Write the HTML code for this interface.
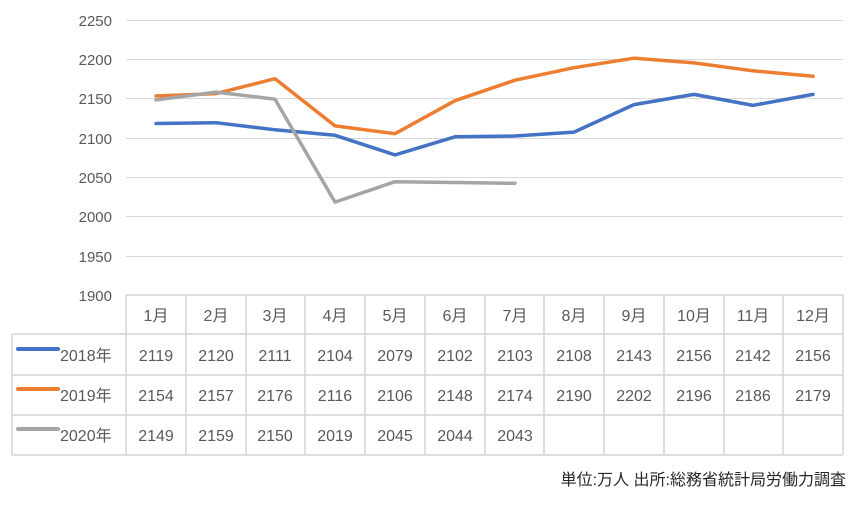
<!DOCTYPE html>
<html><head><meta charset="utf-8"><style>
body{margin:0;background:#fff;}
svg text{font-family:"Liberation Sans","Noto Sans CJK JP",sans-serif;fill:#595959;}
</style></head><body>
<svg width="861" height="501" xmlns="http://www.w3.org/2000/svg">
<g stroke="#d9d9d9" stroke-width="1">
<line x1="126" x2="843" y1="20.5" y2="20.5"/>
<line x1="126" x2="843" y1="59.5" y2="59.5"/>
<line x1="126" x2="843" y1="98.5" y2="98.5"/>
<line x1="126" x2="843" y1="138.5" y2="138.5"/>
<line x1="126" x2="843" y1="177.5" y2="177.5"/>
<line x1="126" x2="843" y1="216.5" y2="216.5"/>
<line x1="126" x2="843" y1="256.5" y2="256.5"/>
</g>
<g font-size="15" text-anchor="end">
<text x="112" y="26">2250</text><text x="112" y="65">2200</text><text x="112" y="104">2150</text>
<text x="112" y="144">2100</text><text x="112" y="183">2050</text><text x="112" y="222">2000</text>
<text x="112" y="262">1950</text><text x="112" y="301">1900</text>
</g>
<g stroke="#d4d4d4" stroke-width="1.5" fill="none">
<line x1="126" x2="843" y1="295" y2="295"/>
<line x1="12" x2="843" y1="334" y2="334"/>
<line x1="12" x2="843" y1="375" y2="375"/>
<line x1="12" x2="843" y1="415" y2="415"/>
<line x1="12" x2="843" y1="455" y2="455"/>
<line x1="12" x2="12" y1="334" y2="455"/>
<line x1="126" x2="126" y1="295" y2="455"/>
<line x1="186" x2="186" y1="295" y2="455"/><line x1="246" x2="246" y1="295" y2="455"/>
<line x1="305" x2="305" y1="295" y2="455"/><line x1="365" x2="365" y1="295" y2="455"/>
<line x1="425" x2="425" y1="295" y2="455"/><line x1="485" x2="485" y1="295" y2="455"/>
<line x1="544" x2="544" y1="295" y2="455"/><line x1="604" x2="604" y1="295" y2="455"/>
<line x1="664" x2="664" y1="295" y2="455"/><line x1="724" x2="724" y1="295" y2="455"/>
<line x1="783" x2="783" y1="295" y2="455"/><line x1="843" x2="843" y1="295" y2="455"/>
</g>
<g fill="none" stroke-width="3.5" stroke-linejoin="round" stroke-linecap="round">
<polyline stroke="#4472c4" points="156,123.5 216,122.7 275,129.8 335,135.3 395,154.9 455,136.8 515,136 574,132.1 634,104.6 694,94.4 753,105.4 813,94.4"/>
<polyline stroke="#ed7d31" points="156,96 216,93.6 275,78.7 335,125.9 395,133.7 455,100.7 515,80.2 574,67.7 634,58.2 694,62.9 753,70.8 813,76.3"/>
<polyline stroke="#a5a5a5" points="156,99.9 216,92.1 275,99.2 335,202.1 395,181.7 455,182.5 515,183.3"/>
</g>
<g font-size="16" text-anchor="middle">
<text x="156" y="321">1月</text><text x="216" y="321">2月</text><text x="275" y="321">3月</text>
<text x="335" y="321">4月</text><text x="395" y="321">5月</text><text x="455" y="321">6月</text>
<text x="515" y="321">7月</text><text x="574" y="321">8月</text><text x="634" y="321">9月</text>
<text x="694" y="321">10月</text><text x="753" y="321">11月</text><text x="813" y="321">12月</text>
</g>
<g stroke-width="4" stroke-linecap="round">
<line x1="18" x2="58" y1="349" y2="349" stroke="#4472c4"/>
<line x1="18" x2="58" y1="389" y2="389" stroke="#ed7d31"/>
<line x1="18" x2="58" y1="429" y2="429" stroke="#a5a5a5"/>
</g>
<g font-size="16">
<text x="60" y="361">2018年</text><text x="60" y="401">2019年</text><text x="60" y="441">2020年</text>
</g>
<g font-size="16" text-anchor="middle">
<text x="156" y="361">2119</text><text x="216" y="361">2120</text><text x="275" y="361">2111</text><text x="335" y="361">2104</text><text x="395" y="361">2079</text><text x="455" y="361">2102</text><text x="515" y="361">2103</text><text x="574" y="361">2108</text><text x="634" y="361">2143</text><text x="694" y="361">2156</text><text x="753" y="361">2142</text><text x="813" y="361">2156</text>
<text x="156" y="401">2154</text><text x="216" y="401">2157</text><text x="275" y="401">2176</text><text x="335" y="401">2116</text><text x="395" y="401">2106</text><text x="455" y="401">2148</text><text x="515" y="401">2174</text><text x="574" y="401">2190</text><text x="634" y="401">2202</text><text x="694" y="401">2196</text><text x="753" y="401">2186</text><text x="813" y="401">2179</text>
<text x="156" y="441">2149</text><text x="216" y="441">2159</text><text x="275" y="441">2150</text><text x="335" y="441">2019</text><text x="395" y="441">2045</text><text x="455" y="441">2044</text><text x="515" y="441">2043</text>
</g>
<text x="846" y="485" font-size="16" text-anchor="end" style="fill:#262626">単位:万人 出所:総務省統計局労働力調査</text>
</svg>
</body></html>
